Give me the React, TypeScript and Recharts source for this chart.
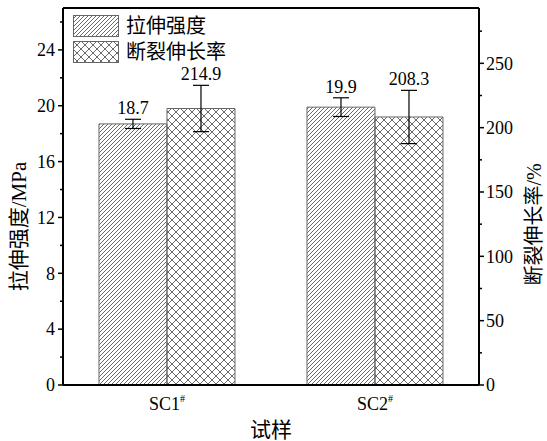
import React from 'react';
import { ComposedChart, Bar, XAxis, YAxis, ErrorBar, LabelList, Legend, ReferenceLine } from 'recharts';

const categories = ['SC1#', 'SC2#'];
const tensileStrength = [18.7, 19.9];
const tensileErr = [0.33, 0.67];
const elongation = [214.9, 208.3];
const elongationErr = [18, 20.7];

const leftMajor = [0, 4, 8, 12, 16, 20, 24];
const leftMinor = [2, 6, 10, 14, 18, 22, 26];
const rightMajor = [0, 50, 100, 150, 200, 250];
const rightMinor = [25, 75, 125, 175, 225, 275];
const leftMax = 27;
const rightMax = 293;

const seriesNames = ['拉伸强度', '断裂伸长率'];

const data = categories.map((c, i) => ({
  name: c,
  s: tensileStrength[i],
  sErr: tensileErr[i],
  e: elongation[i],
  eErr: elongationErr[i],
}));

const FONT = "'Liberation Serif', 'Noto Sans CJK SC', serif";

const makeLeftTick = (major: number[]) => (props: any) => {
  const { x, y, payload } = props;
  const isMajor = major.includes(payload.value);
  const len = isMajor ? 5 : 3;
  return (
    <g>
      <line x1={x} x2={x - len} y1={y} y2={y} stroke="#000" strokeWidth={1.5} />
      {isMajor && (
        <text x={x - 8} y={y} dy="0.35em" textAnchor="end" fontSize={18} fontFamily={FONT} fill="#000">
          {payload.value}
        </text>
      )}
    </g>
  );
};

const makeRightTick = (major: number[]) => (props: any) => {
  const { x, y, payload } = props;
  const isMajor = major.includes(payload.value);
  const len = isMajor ? 5 : 3;
  return (
    <g>
      <line x1={x} x2={x + len} y1={y} y2={y} stroke="#000" strokeWidth={1.5} />
      {isMajor && (
        <text x={x + 7} y={y} dy="0.35em" textAnchor="start" fontSize={18} fontFamily={FONT} fill="#000">
          {payload.value}
        </text>
      )}
    </g>
  );
};

const XTick = (props: any) => {
  const { x, y, payload } = props;
  const label = String(payload.value);
  const base = label.replace('#', '');
  return (
    <text x={x} y={y + 25} textAnchor="middle" fontSize={18} fontFamily={FONT} fill="#000">
      <tspan>{base}</tspan>
      <tspan fontSize={10} dy={-8}>#</tspan>
    </text>
  );
};

const makeValueLabel = (errs: number[]) => (props: any) => {
  const { x, y, width, height, value, index } = props;
  const pxPerUnit = Number(height) / Number(value);
  const top = Number(y) - errs[index] * pxPerUnit;
  return (
    <text x={Number(x) + Number(width) / 2} y={top - 5} textAnchor="middle" fontSize={18} fontFamily={FONT} fill="#000">
      {value}
    </text>
  );
};

const LegendContent = () => (
  <div style={{ fontFamily: FONT, fontSize: 20, lineHeight: '22px', color: '#000' }}>
    {seriesNames.map((n, i) => (
      <div key={n} style={{ display: 'flex', alignItems: 'center', height: 26 }}>
        <svg width={46} height={22} style={{ display: 'block' }}>
          <defs>
            <pattern id="diagL" patternUnits="userSpaceOnUse" width="4" height="4">
              <path d="M-1,1 l2,-2 M0,4 l4,-4 M3,5 l2,-2" stroke="#444" strokeWidth="0.8" />
            </pattern>
            <pattern id="crossL" patternUnits="userSpaceOnUse" width="8" height="8">
              <path d="M0,0 L8,8 M8,0 L0,8" stroke="#444" strokeWidth="0.8" />
            </pattern>
          </defs>
          <rect x={0.5} y={0.5} width={45} height={21} fill={i === 0 ? 'url(#diagL)' : 'url(#crossL)'} stroke="#666" strokeWidth={1} />
        </svg>
        <span style={{ marginLeft: 7 }}>{n}</span>
      </div>
    ))}
  </div>
);

export default function App() {
  return (
    <div style={{ position: 'absolute', left: 0, top: 0, width: 547, height: 441, background: '#fff' }}>
      <ComposedChart
        width={547}
        height={441}
        data={data}
        margin={{ top: 8, right: 0, bottom: 0, left: 0 }}
        barCategoryGap="17.3%"
        barGap={0}
      >
        <defs>
          <pattern id="diag" patternUnits="userSpaceOnUse" width="4" height="4">
            <path d="M-1,1 l2,-2 M0,4 l4,-4 M3,5 l2,-2" stroke="#444" strokeWidth="0.8" />
          </pattern>
          <pattern id="cross" patternUnits="userSpaceOnUse" width="8" height="8">
            <path d="M0,0 L8,8 M8,0 L0,8" stroke="#444" strokeWidth="0.8" />
          </pattern>
        </defs>
        <XAxis
          dataKey="name"
          height={56}
          tickLine={false}
          tickSize={0}
          tickMargin={0}
          axisLine={{ stroke: '#000', strokeWidth: 2 }}
          tick={<XTick />}
          label={{
            content: (p: any) => {
              const vb = p.viewBox;
              return (
                <text x={vb.x + vb.width / 2} y={vb.y + 52} textAnchor="middle" fontSize={21} fontFamily={FONT} fill="#000">
                  试样
                </text>
              );
            },
          }}
        />
        <YAxis
          yAxisId="left"
          orientation="left"
          width={63}
          domain={[0, leftMax]}
          ticks={[...leftMajor, ...leftMinor].sort((a, b) => a - b)}
          interval={0}
          tickLine={false}
          tickSize={0}
          tickMargin={0}
          axisLine={{ stroke: '#000', strokeWidth: 2 }}
          tick={makeLeftTick(leftMajor)}
          label={{
            content: (p: any) => {
              const vb = p.viewBox;
              const cx = vb.x + 19;
              const cy = vb.y + vb.height / 2 + 30;
              return (
                <text transform={`translate(${cx},${cy}) rotate(-90)`} textAnchor="middle" dominantBaseline="central" fontSize={21} fontFamily={FONT} fill="#000">
                  拉伸强度/MPa
                </text>
              );
            },
          }}
        />
        <YAxis
          yAxisId="right"
          orientation="right"
          width={68}
          domain={[0, rightMax]}
          ticks={[...rightMajor, ...rightMinor].sort((a, b) => a - b)}
          interval={0}
          tickLine={false}
          tickSize={0}
          tickMargin={0}
          axisLine={{ stroke: '#000', strokeWidth: 2 }}
          tick={makeRightTick(rightMajor)}
          label={{
            content: (p: any) => {
              const vb = p.viewBox;
              const cx = vb.x + 55;
              const cy = vb.y + vb.height / 2 + 28;
              return (
                <text transform={`translate(${cx},${cy}) rotate(-90)`} textAnchor="middle" dominantBaseline="central" fontSize={20} fontFamily={FONT} fill="#000">
                  断裂伸长率/%
                </text>
              );
            },
          }}
        />
        <ReferenceLine yAxisId="left" y={leftMax} stroke="#000" strokeWidth={2} />
        <Legend
          layout="horizontal"
          verticalAlign="middle"
          align="center"
          wrapperStyle={{ top: 13, left: 73, width: 'auto', height: 'auto' }}
          content={<LegendContent />}
        />
        <Bar yAxisId="left" dataKey="s" name={seriesNames[0]} fill="url(#diag)" stroke="#666" strokeWidth={1} isAnimationActive={false}>
          <ErrorBar dataKey="sErr" width={8} stroke="#000" strokeWidth={1.2} direction="y" />
          <LabelList dataKey="s" content={makeValueLabel(tensileErr)} />
        </Bar>
        <Bar yAxisId="right" dataKey="e" name={seriesNames[1]} fill="url(#cross)" stroke="#666" strokeWidth={1} isAnimationActive={false}>
          <ErrorBar dataKey="eErr" width={8} stroke="#000" strokeWidth={1.2} direction="y" />
          <LabelList dataKey="e" content={makeValueLabel(elongationErr)} />
        </Bar>
      </ComposedChart>
    </div>
  );
}
